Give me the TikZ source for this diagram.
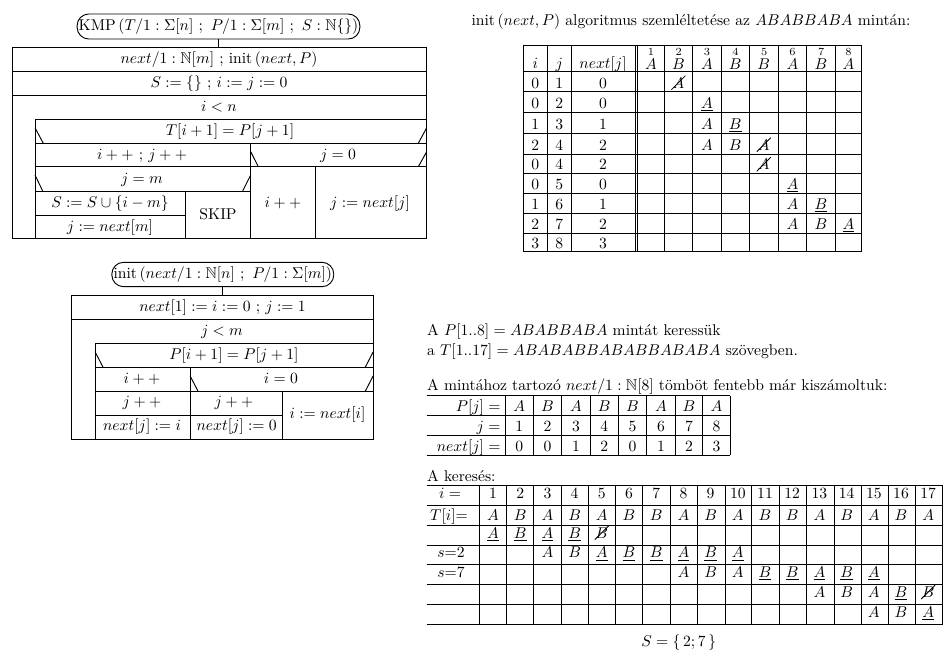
\documentclass[tikz,border=0pt]{standalone}
\usepackage{amsmath,amssymb}
\newcommand\strikeit[1]{\draw[line width=0.5pt] (#1.center) ++(-7,7) -- ++(14,-14);}
\newcommand\pp{+{+}}
\begin{document}
\begin{tikzpicture}[x=0.64pt,y=-0.64pt,line width=0.6pt,
  t/.style={inner sep=0pt,anchor=base},
  tl/.style={inner sep=0pt,anchor=base west},
  tr/.style={inner sep=0pt,anchor=base east},
  ttl/.style={draw,rounded corners=7.5pt,inner sep=1pt}]
\useasboundingbox (0,0) rectangle (952,653);

% ---------------- KMP structogram ----------------
\node[ttl,minimum width=181pt,minimum height=16pt] (kmp) at (218.5,26.5)
  {KMP\,$(T/1:\Sigma[n]\ ;\ P/1:\Sigma[m]\ ;\ S:\mathbb{N}\{\})$};
\coordinate (kmptop) at (218.5,47.7);
\draw (kmp.south) -- (kmptop);
\draw (12,47.7) rectangle (426.7,238.3);
\draw (12,71.3) -- (426.7,71.3);
\draw (12,95.3) -- (426.7,95.3);
\draw (35,238.3) -- (35,119) -- (426.7,119);
\draw (35,143.3) -- (426.7,143.3);
\draw (250.7,143.3) -- (250.7,238.3);
\draw (35,166.7) -- (426.7,166.7);
\draw (35,191) -- (250.7,191);
\draw (35,215) -- (185.7,215);
\draw (185.7,191) -- (185.7,238.3);
\draw (315.3,166.7) -- (315.3,238.3);
\draw (35,127.7) -- (43.3,143.3) (426.7,127.7) -- (418.3,143.3);
\draw (250.7,151.7) -- (258.3,166.7) (426.7,151.7) -- (418.3,166.7);
\draw (35,175) -- (42.7,191) (250.7,175) -- (242.7,191);
\node[t] (k1) at (219,63.5) {$next/1:\mathbb{N}[m]$ ; init\,$(next,P)$};
\node[t] (k2) at (219,87.3) {$S:=\{\}$ ; $i:=j:=0$};
\node[t] (k3) at (219,111.5) {$i<n$};
\node[t] (k4) at (230,135.5) {$T[i+1]=P[j+1]$};
\node[t] (k5) at (142,159) {$i\pp$ ; $j\pp$};
\node[t] (k6) at (338,159) {$j=0$};
\node[t] (k7) at (142,183) {$j=m$};
\node[t] (k8) at (110,207) {$S:=S\cup\{i-m\}$};
\node[t] (k9) at (110,231) {$j:=next[m]$};
\node[t] (k10) at (218,219.5) {SKIP};
\node[t] (k11) at (283,207) {$i\pp$};
\node[t] (k12) at (370,207) {$j:=next[j]$};

% ---------------- init structogram ----------------
\node[ttl,minimum width=142pt,minimum height=15.6pt] (ini) at (222.8,274.5)
  {init\,$(next/1:\mathbb{N}[n]\ ;\ P/1:\Sigma[m])$};
\coordinate (initop) at (222.8,295.7);
\draw (ini.south) -- (initop);
\draw (71.7,295.7) rectangle (373.3,439.3);
\draw (71.7,319.3) -- (373.3,319.3);
\draw (95,439.3) -- (95,343.3) -- (373.3,343.3);
\draw (95,367.7) -- (373.3,367.7);
\draw (190,367.7) -- (190,439.3);
\draw (95,391.7) -- (373.3,391.7);
\draw (95,415) -- (282.3,415);
\draw (282.3,391.7) -- (282.3,439.3);
\draw (95,351.7) -- (103.3,367.7) (373.3,351.7) -- (365,367.7);
\draw (190,375.7) -- (198.3,391.7) (373.3,375.7) -- (365,391.7);
\node[t] (n1) at (222.5,311) {$next[1]:=i:=0$ ; $j:=1$};
\node[t] (n2) at (222,335) {$j<m$};
\node[t] (n3) at (234,359.5) {$P[i+1]=P[j+1]$};
\node[t] (n4) at (142,383) {$i\pp$};
\node[t] (n5) at (281,383) {$i=0$};
\node[t] (n6) at (142,406.7) {$j\pp$};
\node[t] (n7) at (142,430) {$next[j]:=i$};
\node[t] (n8) at (234,406.7) {$j\pp$};
\node[t] (n9) at (236.7,430) {$next[j]:=0$};
\node[t] (n10) at (327.5,418.3) {$i:=next[i]$};

% ---------------- init illustration table ----------------
\node[t] (ttl1) at (691,25.5) {init\,$(next,P)$ algoritmus szemléltetése az $ABABBABA$ mintán:};
\foreach \x in {523.3,547.3,571,635,637.7,664,692.7,721,749.3,778.3,806.7,835,861.7}
  \draw (\x,45) -- (\x,251.7);
\foreach \y in {45,71,91.7,112.3,133.3,154,173.3,193.3,213.3,233.3,251.7}
  \draw (523.3,\y) -- (861.7,\y);
\node[t] (hi) at (535.3,68) {$i$};
\node[t] (hj) at (559.2,68) {$j$};
\node[t] (hn) at (603,68) {$next[j]$};
\foreach \c/\x/\L in {1/650.9/A,2/678.4/B,3/706.9/A,4/735.2/B,5/763.8/B,6/792.5/A,7/820.9/B,8/848.4/A}
  \node[t] (h\c) at (\x,68) {$\stackrel{\c}{\L}$};
\foreach \rw/\yb/\vi/\vj/\vn in {1/88/0/1/0,2/108.5/0/2/0,3/129.5/1/3/1,4/150/2/4/2,5/169.5/0/4/2,6/189.5/0/5/0,7/209.5/1/6/1,8/229.5/2/7/2,9/248/3/8/3}{
  \node[t] (ti\rw) at (535.3,\yb) {$\vi$};
  \node[t] (tj\rw) at (559.2,\yb) {$\vj$};
  \node[t] (tn\rw) at (603,\yb) {$\vn$};
}
\node[t] (a1) at (678.4,88) {$A$}; \strikeit{a1}
\node[t] (a2) at (706.9,108.5) {$\underline{A}$};
\node[t] (a3) at (706.9,129.5) {$A$};
\node[t] (a4) at (735.2,129.5) {$\underline{B}$};
\node[t] (a5) at (706.9,150) {$A$};
\node[t] (a6) at (735.2,150) {$B$};
\node[t] (a7) at (763.8,150) {$A$}; \strikeit{a7}
\node[t] (a8) at (763.8,169.5) {$A$}; \strikeit{a8}
\node[t] (a9) at (792.5,189.5) {$\underline{A}$};
\node[t] (a10) at (792.5,209.5) {$A$};
\node[t] (a11) at (820.9,209.5) {$\underline{B}$};
\node[t] (a12) at (792.5,229.5) {$A$};
\node[t] (a13) at (820.9,229.5) {$B$};
\node[t] (a14) at (848.4,229.5) {$\underline{A}$};

% ---------------- text + next table ----------------
\node[tl] (m1) at (426.7,335.5) {A $P[1..8]=ABABBABA$ mintát keressük};
\node[tl] (m2) at (426.7,355) {a $T[1..17]=ABABABBABABBABABA$ szövegben.};
\node[tl] (m3) at (426.7,390) {A mintához tartozó $next/1:\mathbb{N}[8]$ tömböt fentebb már kiszámoltuk:};
\foreach \y in {395.7,415,435,455} \draw (426.7,\y) -- (730,\y);
\foreach \x in {505,533.3,561.7,590,618.3,646.7,675,702.7,730} \draw (\x,395.7) -- (\x,455);
\node[tr] (pl) at (501,411) {$P[j]=$};
\node[tr] (jl) at (501,431) {$j=$};
\node[tr] (nl) at (501,451) {$next[j]=$};
\foreach \c/\x/\L/\nv in {1/519.2/A/0,2/547.5/B/0,3/575.9/A/1,4/604.2/B/2,5/632.5/B/0,6/660.9/A/1,7/688.9/B/2,8/716.4/A/3}{
  \node[t] (p\c) at (\x,411) {$\L$};
  \node[t] (j\c) at (\x,431) {$\c$};
  \node[t] (nx\c) at (\x,451) {$\nv$};
}

% ---------------- search table ----------------
\node[tl] (ks) at (426.7,481) {A keresés:};
\foreach \y in {485.7,505.7,525.7,545,564.3,584.3,604.3,624.3} \draw (426.7,\y) -- (942.7,\y);
\foreach \x in {479.3,506.7,533.3,561,588.3,615,642.7,670,697.3,725,751.7,779,806.7,834,861.7,888.3,915.7,942.7}
  \draw (\x,485.7) -- (\x,624.3);
\node[t] (li) at (450,498.7) {$i=$};
\node[t] (lT) at (449,520) {$T[i]$=};
\node[t] (ls2) at (451,557.8) {$s$=2};
\node[t] (ls7) at (451,577.6) {$s$=7};
\foreach \c/\L in {1/A,2/B,3/A,4/B,5/A,6/B,7/B,8/A,9/B,10/A,11/B,12/B,13/A,14/B,15/A,16/B,17/A}{
  \node[t] (i\c) at ({493+27.2*(\c-1)},498.7) {$\c$};
  \node[t] (T\c) at ({493+27.2*(\c-1)},520) {$\L$};
}
\foreach \rw/\c/\L in {3/1/\underline{A},3/2/\underline{B},3/3/\underline{A},3/4/\underline{B},
  4/3/A,4/4/B,4/5/\underline{A},4/6/\underline{B},4/7/\underline{B},4/8/\underline{A},4/9/\underline{B},4/10/\underline{A},
  5/8/A,5/9/B,5/10/A,5/11/\underline{B},5/12/\underline{B},5/13/\underline{A},5/14/\underline{B},5/15/\underline{A},
  6/13/A,6/14/B,6/15/A,6/16/\underline{B},
  7/15/A,7/16/B,7/17/\underline{A}}
  \node[t] (e\rw-\c) at ({493+27.2*(\c-1)},{538+19.8*(\rw-3)}) {$\L$};
\node[t] (x35) at (601.8,538) {$B$}; \strikeit{x35}
\node[t] (x617) at (928.2,597.4) {$B$}; \strikeit{x617}
\node[t] (res) at (678.7,646) {$S=\{\,2;7\,\}$};
\end{tikzpicture}
\end{document}
